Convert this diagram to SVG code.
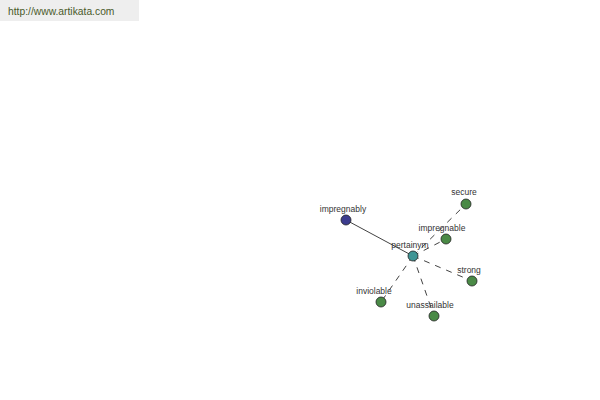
<svg xmlns="http://www.w3.org/2000/svg" width="600" height="400" viewBox="0 0 600 400">
<style>
.lbl{font-family:"Liberation Sans",Arial,sans-serif;font-size:8.5px;fill:#333;text-anchor:middle}
.n{stroke:#222;stroke-width:0.8}
.g{fill:#4a8a46}
.d{stroke:#111;stroke-width:0.8;stroke-dasharray:6,6;fill:none}
</style>
<rect width="600" height="400" fill="#fff"/>
<rect x="0" y="0" width="139" height="21" fill="#eeeeee"/>
<text x="8" y="15" font-family="'Liberation Sans',Arial,sans-serif" font-size="10.3" fill="#4a5a2a">http://www.artikata.com</text>
<g id="connectors">
<line x1="346" y1="220" x2="413" y2="256" stroke="#111" stroke-width="0.8"/>
<line class="d" x1="413" y1="256" x2="466" y2="204"/>
<line class="d" x1="413" y1="256" x2="446" y2="239"/>
<line class="d" x1="413" y1="256" x2="472" y2="281"/>
<line class="d" x1="413" y1="256" x2="381" y2="302"/>
<line class="d" x1="413" y1="256" x2="434" y2="316"/>
</g>
<g id="impregnably"><circle class="n" cx="346" cy="220" r="5" fill="#3c3c8e"/><text class="lbl" x="343" y="212">impregnably</text></g>
<g id="pertainym"><circle class="n" cx="413" cy="256" r="5" fill="#3f9595"/><text class="lbl" x="410" y="248">pertainym</text></g>
<g id="secure"><circle class="n g" cx="466" cy="204" r="5"/><text class="lbl" x="464" y="195">secure</text></g>
<g id="impregnable"><circle class="n g" cx="446" cy="239" r="5"/><text class="lbl" x="442" y="231">impregnable</text></g>
<g id="strong"><circle class="n g" cx="472" cy="281" r="5"/><text class="lbl" x="469" y="273">strong</text></g>
<g id="inviolable"><circle class="n g" cx="381" cy="302" r="5"/><text class="lbl" x="374" y="294">inviolable</text></g>
<g id="unassailable"><circle class="n g" cx="434" cy="316" r="5"/><text class="lbl" x="430" y="308">unassailable</text></g>
</svg>
